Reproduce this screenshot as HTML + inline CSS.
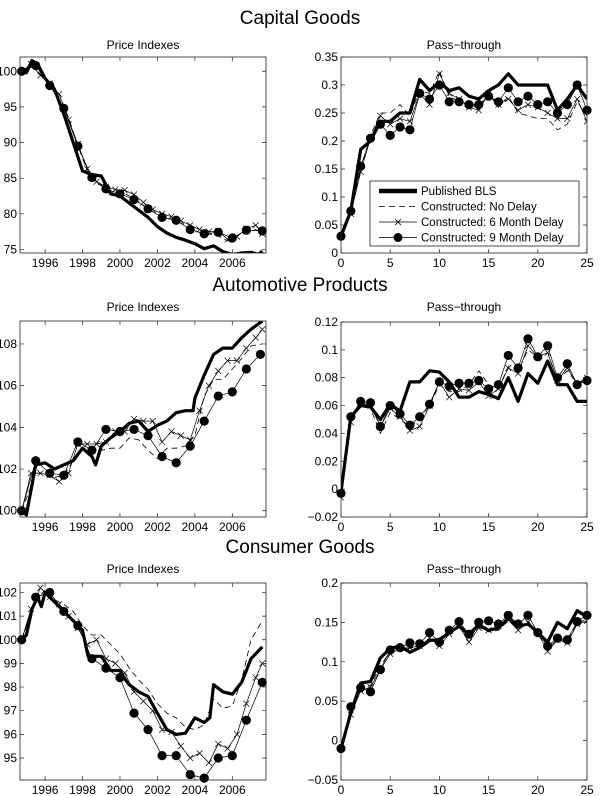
<!DOCTYPE html>
<html><head><meta charset="utf-8"><style>
html,body{margin:0;padding:0;background:#fff;}
svg{display:block;font-family:"Liberation Sans",Arial,sans-serif;}
</style></head><body>
<svg id="fig" width="600" height="796" viewBox="0 0 600 796">
<text x="300" y="24" text-anchor="middle" font-size="19">Capital Goods</text>
<text x="143" y="49" text-anchor="middle" font-size="12">Price Indexes</text>
<text x="464" y="49" text-anchor="middle" font-size="12">Pass−through</text>
<text x="300" y="291" text-anchor="middle" font-size="19">Automotive Products</text>
<text x="143" y="311" text-anchor="middle" font-size="12">Price Indexes</text>
<text x="464" y="311" text-anchor="middle" font-size="12">Pass−through</text>
<text x="300" y="553" text-anchor="middle" font-size="19">Consumer Goods</text>
<text x="143" y="573" text-anchor="middle" font-size="12">Price Indexes</text>
<text x="464" y="573" text-anchor="middle" font-size="12">Pass−through</text>
</svg>
<script>
// ---- Capital goods price indexes ([year, index]) ----
const capBls=[[1994.75,100],[1995,99.8],[1995.3,101.5],[1995.6,101],[1996,99],[1996.5,97.5],[1997,94],[1997.5,90],[1998,86],[1998.5,85.5],[1999,85.3],[1999.5,82.8],[2000,82.5],[2000.5,81.5],[2001,80.5],[2001.5,79.5],[2002,78.2],[2002.5,77.3],[2003,76.7],[2003.5,76.3],[2004,75.8],[2004.5,75.1],[2005,75.5],[2005.5,74.7],[2006,74.3],[2006.5,74.5],[2007,74.6],[2007.4,74.3],[2007.6,74.8]];
const capNd=[[1994.75,100],[1995.25,100.8],[1995.75,99.6],[1996.25,98],[1996.75,96.8],[1997.25,93.5],[1997.75,89.6],[1998.25,86],[1998.75,84.3],[1999.25,83.6],[1999.75,82.9],[2000.25,82.8],[2000.75,82.2],[2001.25,81.2],[2001.75,80.3],[2002.25,79.6],[2002.75,79.3],[2003.25,78.7],[2003.75,77.9],[2004.25,77.4],[2004.75,77.1],[2005.25,76.9],[2005.75,76.2],[2006.25,76.9],[2006.75,77.3],[2007.25,77.8],[2007.6,77.2]];
const cap6m=[[1994.75,100],[1995.25,101],[1995.75,99.4],[1996.25,98.3],[1996.75,96.8],[1997.25,93.2],[1997.75,89.8],[1998.25,86.3],[1998.75,84.5],[1999.25,83.8],[1999.75,83.4],[2000.25,83.3],[2000.75,82.7],[2001.25,81.6],[2001.75,80.6],[2002.25,80],[2002.75,79.6],[2003.25,79],[2003.75,78.4],[2004.25,77.8],[2004.75,77.5],[2005.25,77.6],[2005.75,76.4],[2006.25,76.8],[2006.75,77.9],[2007.25,78.4],[2007.6,77.2]];
const cap9m=[[1994.75,100],[1995.5,100.8],[1996.25,98],[1997,94.8],[1997.75,89.5],[1998.5,85.1],[1999.25,83.5],[2000,82.8],[2000.75,82],[2001.5,80.7],[2002.25,79.5],[2003,79.1],[2003.75,77.8],[2004.5,77.2],[2005.25,77.4],[2006,76.6],[2006.75,77.7],[2007.6,77.6]];
// ---- Automotive price indexes ----
const autoBls=[[1994.75,100],[1995,99.8],[1995.5,102.2],[1996,102.3],[1996.5,102],[1997,102.2],[1997.5,102.4],[1998,103],[1998.5,102.6],[1998.7,102.2],[1999,103.1],[1999.5,103.5],[2000,103.8],[2000.5,104.2],[2001,104.3],[2001.5,103.8],[2002,104.1],[2002.5,104.3],[2003,104.7],[2003.5,104.8],[2003.9,104.8],[2004,105.4],[2004.5,106.5],[2005,107.5],[2005.5,107.8],[2006,107.8],[2006.5,108.3],[2007,108.7],[2007.6,109.1]];
const autoNd=[[1994.75,100],[1995.5,101.8],[1996,101.8],[1996.5,101.6],[1997,101.7],[1997.5,102.4],[1998,103],[1998.5,102.8],[1999,102.9],[1999.5,103],[2000,103],[2000.5,103.5],[2001,103.4],[2001.5,102.9],[2002,102.5],[2002.5,103],[2003,103],[2003.5,103.1],[2004,103.6],[2004.5,105.5],[2005,106.3],[2005.5,106.3],[2006,106.8],[2006.5,107.3],[2007,107.9],[2007.6,108]];
const auto6m=[[1994.75,100],[1995.25,101.8],[1995.75,101.8],[1996.25,101.7],[1996.75,101.4],[1997.25,101.8],[1997.75,103.2],[1998.25,103.2],[1998.75,103.2],[1999.25,103.3],[1999.75,103.8],[2000.25,103.8],[2000.75,104.4],[2001.25,104.3],[2001.75,104.3],[2002.25,103.3],[2002.75,103.8],[2003.25,103.6],[2003.75,103.4],[2004.25,104.8],[2004.75,106],[2005.25,106.7],[2005.75,107.2],[2006.25,107.2],[2006.75,107.8],[2007.25,108.3],[2007.6,108.7]];
const auto9m=[[1994.75,100],[1995.5,102.4],[1996.25,101.8],[1997,101.7],[1997.75,103.3],[1998.5,102.9],[1999.25,103.9],[2000,103.8],[2000.75,103.9],[2001.5,103.6],[2002.25,102.6],[2003,102.3],[2003.75,103.1],[2004.5,104.3],[2005.25,105.5],[2006,105.7],[2006.75,106.8],[2007.5,107.5]];
// ---- Consumer price indexes ----
const conBls=[[1994.75,100],[1995,100.2],[1995.3,101.3],[1995.6,101.8],[1995.8,101.4],[1996,102],[1996.5,101.6],[1997,101.2],[1997.5,100.8],[1998,100.4],[1998.3,99.3],[1998.7,99.3],[1999,99.3],[1999.5,98.7],[2000,98.7],[2000.3,98.3],[2000.5,98.1],[2001,97.8],[2001.5,97.6],[2002,96.9],[2002.5,96.2],[2003,96],[2003.5,96.05],[2004,96.7],[2004.5,96.5],[2004.8,96.7],[2005,98.1],[2005.5,97.8],[2006,97.7],[2006.5,98.2],[2007,99.2],[2007.6,99.7]];
const conNd=[[1994.75,100],[1995.5,101.7],[1996,102.1],[1996.5,101.7],[1997,101.5],[1997.5,101.2],[1998,100.6],[1998.5,100.2],[1999,100.2],[1999.5,99.8],[2000,99.4],[2000.5,98.8],[2001,98.3],[2001.5,97.9],[2002,97.3],[2002.5,96.9],[2003,96.7],[2003.5,96.3],[2004,96.2],[2004.5,96.4],[2005,97.5],[2005.5,97.1],[2006,97.2],[2006.5,98.3],[2007,100],[2007.6,100.8]];
const con6m=[[1994.75,100],[1995.25,101.3],[1995.75,102.2],[1996.25,101.8],[1996.75,101.5],[1997.25,101],[1997.75,100.5],[1998.25,99.8],[1998.75,100],[1999.25,99.2],[1999.75,99],[2000.25,98.6],[2000.75,97.8],[2001.25,97.4],[2001.75,97],[2002.25,96.2],[2002.75,96.1],[2003.25,95.5],[2003.75,95],[2004.25,95.2],[2004.75,94.8],[2005.25,95.6],[2005.75,95.4],[2006.25,96],[2006.75,97.3],[2007.25,98.4],[2007.6,99]];
const con9m=[[1994.75,100],[1995.5,101.8],[1996.25,102],[1997,101.2],[1997.75,100.6],[1998.5,99.2],[1999.25,98.8],[2000,98.4],[2000.75,96.9],[2001.5,96.2],[2002.25,95.1],[2003,95.1],[2003.75,94.3],[2004.5,94.15],[2005.25,95],[2006,95.1],[2006.75,96.6],[2007.6,98.2]];
// ---- Pass-through (horizons 0..25) ----
const ptCapBls=[0.03,0.075,0.185,0.2,0.235,0.235,0.25,0.25,0.31,0.29,0.305,0.29,0.295,0.28,0.275,0.29,0.3,0.32,0.3,0.3,0.3,0.3,0.255,0.275,0.3,0.275];
const ptCapNd=[0.03,0.07,0.15,0.21,0.25,0.25,0.265,0.245,0.29,0.285,0.325,0.28,0.27,0.265,0.26,0.285,0.26,0.28,0.25,0.245,0.24,0.24,0.22,0.23,0.27,0.245];
const ptCap6m=[0.03,0.07,0.145,0.205,0.245,0.23,0.24,0.235,0.285,0.265,0.32,0.285,0.275,0.26,0.255,0.285,0.265,0.275,0.255,0.265,0.26,0.25,0.24,0.24,0.275,0.235];
const ptCap9m=[0.03,0.075,0.155,0.205,0.23,0.21,0.225,0.22,0.285,0.275,0.3,0.27,0.27,0.265,0.265,0.28,0.27,0.295,0.27,0.28,0.265,0.27,0.25,0.265,0.3,0.255];
const ptAutoBls=[-0.002,0.052,0.06,0.059,0.05,0.061,0.056,0.077,0.077,0.085,0.084,0.077,0.066,0.066,0.07,0.068,0.065,0.08,0.063,0.083,0.076,0.092,0.075,0.075,0.063,0.063];
const ptAutoNd=[-0.003,0.05,0.062,0.058,0.04,0.055,0.05,0.045,0.05,0.06,0.075,0.07,0.07,0.075,0.085,0.075,0.072,0.088,0.085,0.1,0.095,0.098,0.078,0.085,0.076,0.08];
const ptAuto6m=[-0.006,0.048,0.062,0.06,0.045,0.058,0.052,0.042,0.045,0.06,0.077,0.066,0.072,0.071,0.077,0.067,0.072,0.087,0.083,0.103,0.095,0.098,0.078,0.087,0.075,0.08];
const ptAuto9m=[-0.003,0.052,0.063,0.062,0.045,0.06,0.054,0.046,0.052,0.061,0.077,0.074,0.076,0.076,0.078,0.072,0.075,0.096,0.087,0.108,0.095,0.103,0.08,0.09,0.075,0.078];
const ptConBls=[-0.01,0.035,0.073,0.075,0.105,0.117,0.12,0.112,0.118,0.127,0.128,0.137,0.145,0.135,0.147,0.14,0.143,0.155,0.145,0.148,0.137,0.125,0.15,0.142,0.165,0.157];
const ptConNd=[-0.01,0.035,0.065,0.07,0.095,0.113,0.118,0.117,0.12,0.13,0.125,0.138,0.145,0.13,0.145,0.138,0.14,0.152,0.143,0.152,0.135,0.117,0.128,0.127,0.148,0.155];
const ptCon6m=[-0.01,0.033,0.063,0.068,0.09,0.11,0.117,0.118,0.12,0.13,0.12,0.135,0.145,0.125,0.143,0.14,0.145,0.153,0.14,0.15,0.137,0.113,0.128,0.124,0.148,0.152];
const ptCon9m=[-0.01,0.043,0.067,0.062,0.09,0.115,0.118,0.124,0.123,0.137,0.125,0.14,0.151,0.135,0.15,0.152,0.148,0.159,0.148,0.159,0.137,0.12,0.13,0.128,0.151,0.159];
// ---- tick labels ----
const yearTicks=[1996,1998,2000,2002,2004,2006];
const horizonTicks=[0,5,10,15,20,25];
const capPriceTicks=[75,80,85,90,95,100];
const autoPriceTicks=[100,102,104,106,108];
const conPriceTicks=[95,96,97,98,99,100,101,102];
const capPtTicks=[0,0.05,0.1,0.15,0.2,0.25,0.3,0.35];
const autoPtTicks=[-0.02,0,0.02,0.04,0.06,0.08,0.1,0.12];
const conPtTicks=[-0.05,0,0.05,0.1,0.15,0.2];
const legendLabels=["Published BLS","Constructed: No Delay","Constructed: 6 Month Delay","Constructed: 9 Month Delay"];

const NS="http://www.w3.org/2000/svg";
const svg=document.getElementById('fig');
function mk(tag,attrs,parent){const e=document.createElementNS(NS,tag);for(const k in attrs)e.setAttribute(k,attrs[k]);(parent||svg).appendChild(e);return e;}
function fmt(v){return String(parseFloat(v.toFixed(3))).replace('-','−');}

function panel(name,box,xd,yd,xt,yt,series){
  const [L,T,R,B]=box;
  const sx=v=>L+(v-xd[0])/(xd[1]-xd[0])*(R-L);
  const sy=v=>B-(v-yd[0])/(yd[1]-yd[0])*(B-T);
  const g=mk('g',{});
  
  
  const clipId=name+'-clip';
  const cp=mk('clipPath',{id:clipId},g);mk('rect',{x:L,y:T,width:R-L,height:B-T},cp);
  const plot=mk('g',{'clip-path':'url(#'+clipId+')'},g);
  series.forEach(s=>{
    const pts=s.data.map((d,i)=>Array.isArray(d)?[sx(d[0]),sy(d[1])]:[sx(i),sy(d)]);
    const p=mk('polyline',{points:pts.map(p=>p[0].toFixed(1)+','+p[1].toFixed(1)).join(' '),fill:'none',stroke:'#000','stroke-width':s.w,'stroke-linejoin':'round','stroke-dasharray':s.dash||'none'},s.mk==='o'?g:plot);
    
    
    pts.forEach(q=>{
      if(s.mk==='x'){const m=mk('path',{d:`M${q[0]-3},${q[1]-3}L${q[0]+3},${q[1]+3}M${q[0]-3},${q[1]+3}L${q[0]+3},${q[1]-3}`,stroke:'#000','stroke-width':0.7},plot);
        
        }
      if(s.mk==='o'){const m=mk('circle',{cx:q[0],cy:q[1],r:4.6,fill:'#000'},g);
        
        }
    });
  });
  mk('rect',{x:L,y:T,width:R-L,height:B-T,fill:'none',stroke:'#222','stroke-width':0.8},g);
  xt.forEach(v=>{const x=sx(v);
    mk('path',{d:`M${x},${B}V${B-4}M${x},${T}V${T+4}`,stroke:'#222','stroke-width':0.7},g);
    const t=mk('text',{x:x,y:B+14,'text-anchor':'middle','font-size':12},g);t.textContent=fmt(v);
    
    });
  yt.forEach(v=>{const y=sy(v);
    mk('path',{d:`M${L},${y}H${L+4}M${R},${y}H${R-4}`,stroke:'#222','stroke-width':0.7},g);
    const t=mk('text',{x:L-3,y:y+4,'text-anchor':'end','font-size':12},g);t.textContent=fmt(v);
    
    });
}
function S(bls,nd,m6,m9){return [
  {id:'nodelay',data:nd,w:0.8,dash:'6,4'},
  {id:'delay6',data:m6,w:0.7,mk:'x'},
  {id:'delay9',data:m9,w:0.7,mk:'o'},
  {id:'bls',data:bls,w:3.2}];}
const yr=[1994.66,2007.8];
panel('capital-price-chart',[20,57,266,253],yr,[74.5,102],yearTicks,capPriceTicks,S(capBls,capNd,cap6m,cap9m));
panel('capital-passthrough-chart',[341,57,587,253],[0,25],[0,0.35],horizonTicks,capPtTicks,S(ptCapBls,ptCapNd,ptCap6m,ptCap9m));
panel('auto-price-chart',[20,321,266,517],yr,[99.7,109.1],yearTicks,autoPriceTicks,S(autoBls,autoNd,auto6m,auto9m));
panel('auto-passthrough-chart',[341,322,587,517],[0,25],[-0.02,0.12],horizonTicks,autoPtTicks,S(ptAutoBls,ptAutoNd,ptAuto6m,ptAuto9m));
panel('consumer-price-chart',[20,583,266,780],yr,[94.07,102.4],yearTicks,conPriceTicks,S(conBls,conNd,con6m,con9m));
panel('consumer-passthrough-chart',[341,583,587,780],[0,25],[-0.05,0.2],horizonTicks,conPtTicks,S(ptConBls,ptConNd,ptCon6m,ptCon9m));

const lg=mk('g',{});


mk('rect',{x:370,y:181,width:209,height:65,fill:'#fff',stroke:'#222','stroke-width':0.8},lg);
const styles=[{w:4.5},{w:0.8,dash:'6,4'},{w:0.8,mk:'x'},{w:0.8,mk:'o'}];
legendLabels.forEach((lab,i)=>{
  const y=191+i*15.5;
  const e=mk('g',{},lg);
  
  
  mk('line',{x1:379,y1:y,x2:417,y2:y,stroke:'#000','stroke-width':styles[i].w,'stroke-dasharray':styles[i].dash||'none'},e);
  if(styles[i].mk==='x')mk('path',{d:`M395,${y-3}L401,${y+3}M395,${y+3}L401,${y-3}`,stroke:'#000','stroke-width':0.8},e);
  if(styles[i].mk==='o')mk('circle',{cx:398,cy:y,r:4.5,fill:'#000'},e);
  const t=mk('text',{x:421,y:y+4,'font-size':11.5},e);t.textContent=lab;
});
</script>
</body></html>
